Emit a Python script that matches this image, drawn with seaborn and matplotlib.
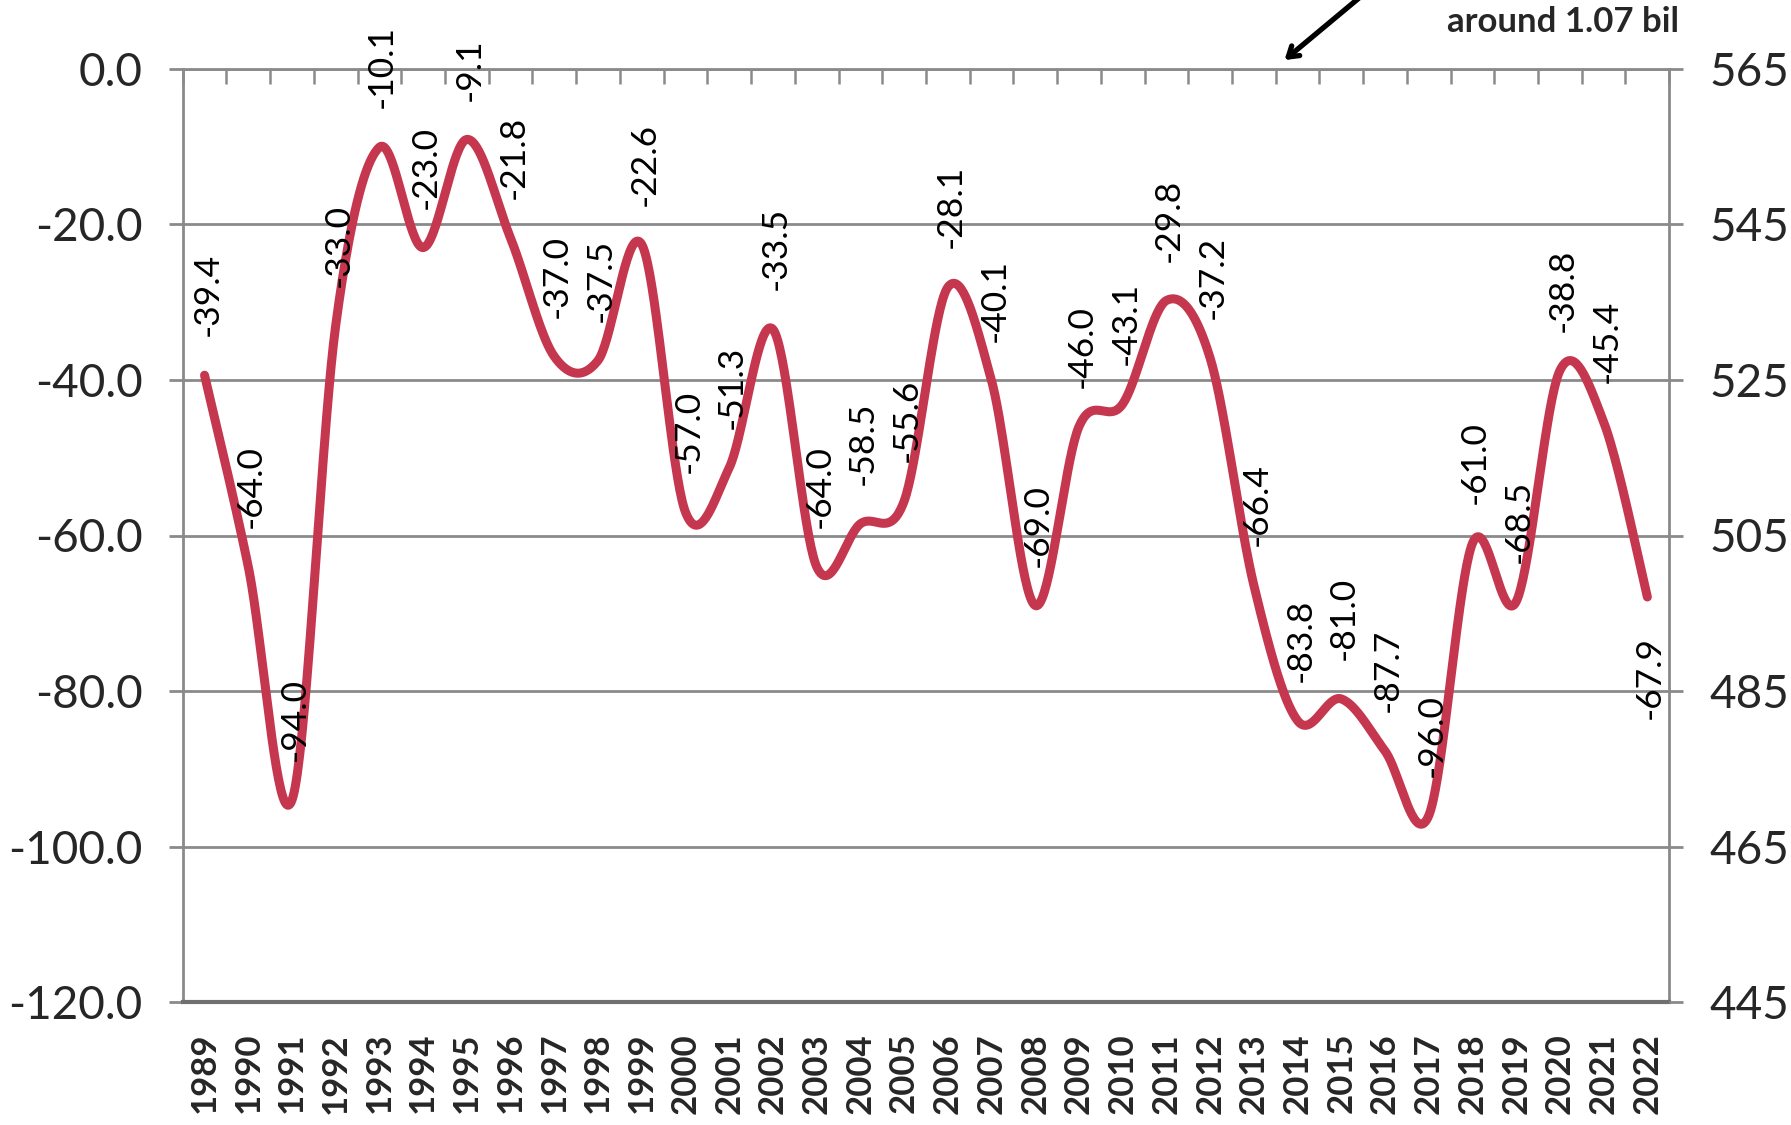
import numpy as np
import pandas as pd
import matplotlib
matplotlib.use("Agg")
import matplotlib.pyplot as plt
import seaborn as sns

#data
years = [str(y) for y in range(1989, 2023)]
values = [-39.4, -64.0, -94.0, -33.0, -10.1, -23.0, -9.1, -21.8, -37.0, -37.5,
          -22.6, -57.0, -51.3, -33.5, -64.0, -58.5, -55.6, -28.1, -40.1, -69.0,
          -46.0, -43.1, -29.8, -37.2, -66.4, -83.8, -81.0, -87.7, -96.0, -61.0,
          -68.5, -38.8, -45.4, -67.9]
left_ticks = [0.0, -20.0, -40.0, -60.0, -80.0, -100.0, -120.0]
right_ticks = [565, 545, 525, 505, 485, 465, 445]
labels_below = ["2022"]
note_text = "around 1.07 bil"

sns.set_style("white")
plt.rcParams["font.family"] = ["Lato", "DejaVu Sans"]

df = pd.DataFrame({"year": years, "value": values})
df["pos"] = np.arange(len(df))

# smooth line like excel (bezier through the points)
px = df["pos"].to_numpy(dtype=float)
py = df["value"].to_numpy(dtype=float)
ext_x = np.concatenate([[px[0]], px, [px[-1]]])
ext_y = np.concatenate([[py[0]], py, [py[-1]]])
t = np.linspace(0, 1, 40)
sx, sy = [], []
for i in range(len(px) - 1):
    p0 = np.array([ext_x[i + 1], ext_y[i + 1]])
    p3 = np.array([ext_x[i + 2], ext_y[i + 2]])
    p1 = p0 + (p3 - np.array([ext_x[i], ext_y[i]])) / 6
    p2 = p3 - (np.array([ext_x[i + 3], ext_y[i + 3]]) - p0) / 6
    b = ((1 - t) ** 3)[:, None] * p0 + (3 * (1 - t) ** 2 * t)[:, None] * p1 \
        + (3 * (1 - t) * t ** 2)[:, None] * p2 + (t ** 3)[:, None] * p3
    sx.extend(b[:, 0])
    sy.extend(b[:, 1])
curve = pd.DataFrame({"x": sx, "y": sy})

fig = plt.figure(figsize=(17.91, 11.25), dpi=100)
ax = fig.add_axes([0.102, 0.109, 0.830, 0.830])

grid_col = "#8a8a8a"
for v in left_ticks[:-1]:
    ax.axhline(v, color=grid_col, lw=2.0, zorder=1)

sns.lineplot(data=curve, x="x", y="y", ax=ax, color="#c5374f", lw=6.5,
             sort=False, estimator=None, zorder=3)

for _, r in df.iterrows():
    if r["year"] in labels_below:
        off, va = -28, "top"
    else:
        off, va = 28, "bottom"
    ax.annotate(f"{r['value']:.1f}", (r["pos"], r["value"]), xytext=(2, off),
                textcoords="offset points", rotation=90, ha="center", va=va,
                fontsize=25.5, color="black", zorder=4, annotation_clip=False)

ax.set_xlim(-0.5, len(years) - 0.5)
ax.set_ylim(-120, 0)
ax.set_xticks(df["pos"])
ax.set_xticklabels(years, rotation=90, fontsize=25, fontweight="bold")
ax.set_xticks(np.arange(-0.5, len(years)), minor=True)
ax.tick_params(axis="x", which="major", length=0, pad=22)
ax.tick_params(axis="x", which="minor", top=True, bottom=False, direction="in",
               length=11, width=1.8, color=grid_col)
ax.set_yticks(left_ticks)
ax.set_yticklabels([f"{v:.1f}" for v in left_ticks], fontsize=33)
ax.tick_params(axis="y", left=True, direction="out", length=10, width=2.0,
               color=grid_col, pad=19)
ax.set_xlabel("")
ax.set_ylabel("")
for s in ["left", "right", "top"]:
    ax.spines[s].set_color(grid_col)
    ax.spines[s].set_linewidth(2.0)
ax.spines["bottom"].set_color("#707070")
ax.spines["bottom"].set_linewidth(3.0)

ax2 = ax.twinx()
ax2.set_ylim(445, 565)
ax2.set_yticks(right_ticks)
ax2.set_yticklabels([str(v) for v in right_ticks], fontsize=33)
ax2.tick_params(axis="y", right=True, direction="out", length=10, width=2.0,
                color=grid_col, pad=19)
for s in ax2.spines.values():
    s.set_visible(False)

# arrow + note at the top
fig.text(0.808, 0.972, note_text, fontsize=25, fontweight="bold", ha="left",
         va="baseline")
ax.annotate("", xy=(0.716, 0.945), xycoords="figure fraction",
            xytext=(0.765, 1.01), textcoords="figure fraction",
            arrowprops=dict(arrowstyle="->, head_length=0.7, head_width=0.45",
                            lw=3.8, color="black"), annotation_clip=False)

plt.savefig("out.png", dpi=100)
